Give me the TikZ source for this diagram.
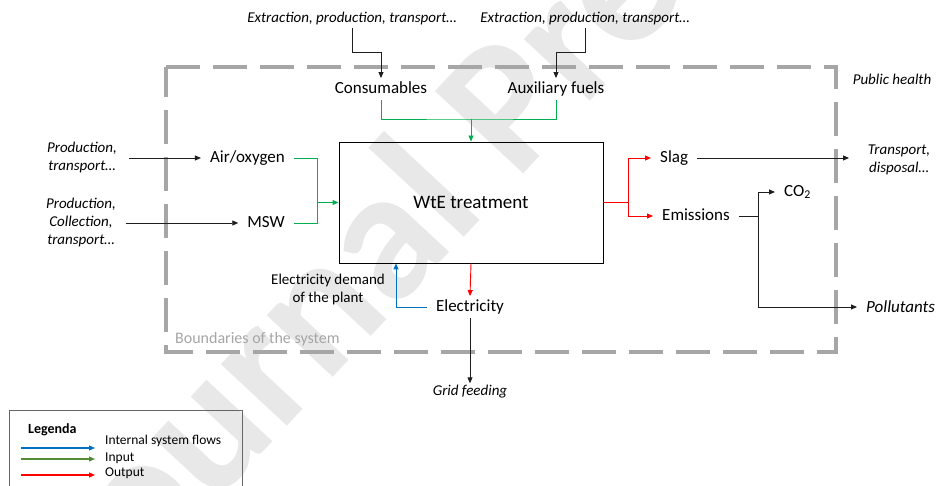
\documentclass[tikz,border=0pt]{standalone}
\usepackage{fontspec}
\setmainfont{Carlito}
\usetikzlibrary{arrows.meta}

\definecolor{inpgreen}{RGB}{0,176,80}
\definecolor{legendgreen}{RGB}{84,140,53}
\definecolor{flowblue}{RGB}{0,112,192}
\definecolor{outred}{RGB}{255,0,0}
\definecolor{bordergray}{RGB}{166,166,166}
\definecolor{wmgray}{RGB}{232,232,232}
\definecolor{linkgray}{RGB}{30,30,30}

\tikzset{
  lbl/.style={font=\fontsize{17}{20}\selectfont, inner xsep=9pt, inner ysep=3pt,
              text height=12pt, text depth=3.5pt},
  ital/.style={font=\fontsize{15}{18}\selectfont\itshape, align=center, inner sep=2pt},
  note/.style={font=\fontsize{15}{18}\selectfont, align=center, inner sep=2pt},
  legtext/.style={font=\fontsize{13.5}{16}\selectfont, inner sep=0pt, anchor=west},
  mainbox/.style={draw=black, line width=0.9pt, minimum width=264pt, minimum height=121pt,
                  font=\fontsize{19}{22}\selectfont},
  boundary/.style={draw=bordergray, line width=4pt, dash pattern=on 34pt off 13pt},
  tip/.style={-{Triangle[length=6pt,width=5pt]}},
  blk/.style={draw=linkgray, line width=0.9pt},
  inl/.style={draw=inpgreen, line width=0.9pt},
  outl/.style={draw=outred, line width=0.9pt},
  intl/.style={draw=flowblue, line width=0.9pt},
  legline/.style={line width=1.1pt},
  wm/.style={font=\bfseries\fontsize{186}{186}\selectfont, text=wmgray, inner sep=0pt}
}

\begin{document}
\begin{tikzpicture}[x=1pt,y=-1pt]
\useasboundingbox (0,0) rectangle (938,486);
\clip (0,0) rectangle (938,486);
\fill[white] (0,0) rectangle (938,486);

% faint diagonal watermark behind everything
\node[wm, rotate=47, anchor=base] (mark) at (560,134) {Journal Pre-proof};

% system boundary
\draw[boundary] (166,67) -- (836,67) -- (836,352) -- (166,352) -- cycle;
\node[anchor=base west, inner sep=0pt, text=bordergray, font=\fontsize{16}{19}\selectfont]
  (bnd) at (175,343.5) {Boundaries of the system};

% upstream texts
\node[ital] (ex1) at (352,19) {Extraction, production, transport…};
\node[ital] (ex2) at (585,19) {Extraction, production, transport…};
\node[ital] (health) at (892,79) {Public health};

% flows
\node[lbl] (cons) at (381,89) {Consumables};
\node[lbl] (aux) at (556,89) {Auxiliary fuels};
\node[mainbox] (wte) at (471,202.5) {WtE treatment};
\node[lbl, anchor=east] (air) at (294,158) {Air/oxygen};
\node[lbl, anchor=east] (msw) at (294,223) {MSW};
\node[ital, inner xsep=12pt] (prod1) at (82,158) {Production,\\transport…};
\node[ital, inner xsep=10pt] (prod2) at (81,223) {Production,\\Collection,\\transport…};
\node[lbl, anchor=west] (slag) at (651,158) {Slag};
\node[lbl, anchor=west] (emis) at (653,216) {Emissions};
\node[lbl, anchor=west] (co2) at (775,192) {CO\textsubscript{2}};
\node[ital, anchor=west, inner xsep=9pt, font=\fontsize{17}{20}\selectfont\itshape]
  (poll) at (857,307) {Pollutants};
\node[ital] (trans) at (899,160) {Transport,\\disposal…};
\node[lbl] (elec) at (470,307) {Electricity};
\node[ital] (grid) at (470,392) {Grid feeding};
\node[note] (demand) at (328,290) {Electricity demand\\of the plant};

% supply chains into the inputs
\draw[blk, tip] (ex1.south) -- ++(0,25) -| (cons.north);
\draw[blk, tip] (ex2.south) -- ++(0,25) -| (aux.north);
\draw[blk, tip] (prod1.east) -- (air.west);
\draw[blk, tip] (prod2.east) -- (msw.west);

% inputs (green)
\coordinate (gtop) at (wte.north |- 0,119);
\draw[inl] (cons.south) |- (gtop) -| (aux.south);
\draw[inl, tip] (gtop) -- (wte.north);
\coordinate (gleft) at (317,202.5);
\draw[inl] (air.east) -| (gleft);
\draw[inl] (msw.east) -| (gleft);
\draw[inl, tip] (gleft) -- (wte.west);

% outputs (red)
\coordinate (rright) at (628,202.5);
\draw[outl] (wte.east) -- (rright);
\draw[outl, tip] (rright) |- (slag.west);
\draw[outl, tip] (rright) |- (emis.west);
\draw[outl, tip] (wte.south) -- (elec.north);

% internal flow (blue)
\coordinate (selfuse) at (396,0 |- wte.south);
\draw[intl, tip] (elec.west) -| (selfuse);

% downstream
\coordinate (slagend) at (849,158);
\draw[blk, tip] (slag.east) -- (slagend);
\coordinate (ebranch) at (758,216);
\draw[blk] (emis.east) -- (ebranch);
\draw[blk, tip] (ebranch) |- (co2.west);
\draw[blk, tip] (ebranch) |- (poll.west);
\draw[blk, tip] (elec.south) -- (grid.north);

% legend
\node[draw=black!60, line width=1.2pt, minimum width=233pt, minimum height=100pt,
      anchor=north west, inner sep=0pt] (legend) at (9,410) {};
\node[anchor=west, inner sep=0pt, font=\fontsize{14}{16}\selectfont\bfseries]
  (legtitle) at (28,430) {Legenda};
\coordinate (lgblue) at (21,448);
\coordinate (lggreen) at (21,459);
\coordinate (lgred) at (21,475);
\draw[intl, legline, tip] (lgblue) -- ++(74,0);
\draw[draw=legendgreen, legline, tip] (lggreen) -- ++(74,0);
\draw[outl, legline, tip] (lgred) -- ++(74,0);
\node[legtext] (lint) at (105,441) {Internal system flows};
\node[legtext] (linp) at (105,458) {Input};
\node[legtext] (lout) at (105,473) {Output};
\end{tikzpicture}
\end{document}
